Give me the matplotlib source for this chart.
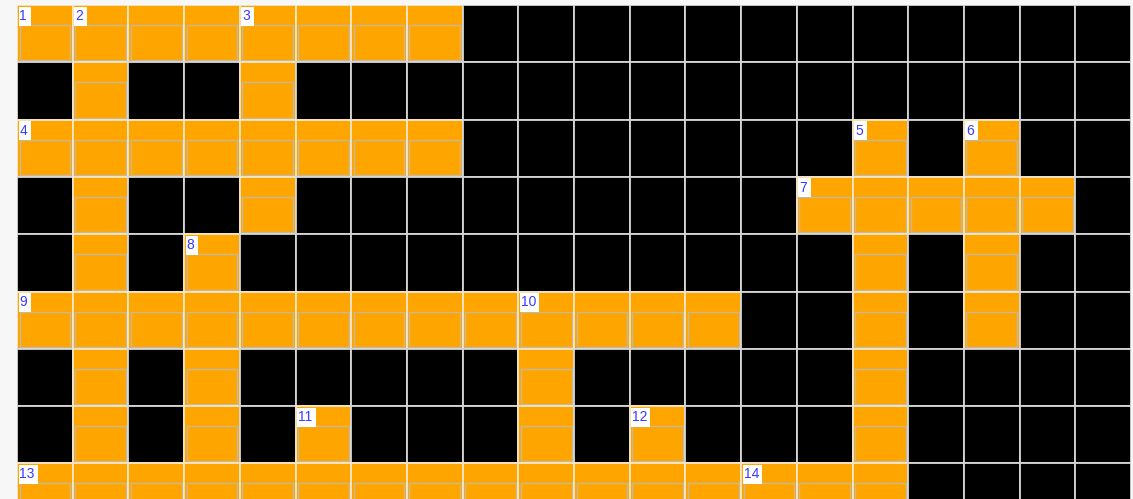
import matplotlib.pyplot as plt
from matplotlib.patches import Rectangle

# crossword layout: 'O' = open (orange) cell, '#' = blocked (black) cell
grid_rows = [
    "OOOOOOOO############",
    "#O##O###############",
    "OOOOOOOO#######O#O##",
    "#O##O#########OOOOO#",
    "#O#O###########O#O##",
    "OOOOOOOOOOOOO##O#O##",
    "#O#O#####O#####O####",
    "#O#O#O###O#O###O####",
    "OOOOOOOOOOOOOOOO####",
]
clue_rows = [0, 0, 0, 2, 2, 2, 3, 4, 5, 5, 7, 7, 8, 8]
clue_cols = [0, 1, 4, 0, 15, 17, 14, 3, 0, 9, 5, 11, 0, 13]
clue_nums = [1, 2, 3, 4, 5, 6, 7, 8, 9, 10, 11, 12, 13, 14]

W, H = 1133, 499
cell_w, cell_h = 55.7, 57.3   # pixel size of one cell
left_px, top_px = 17, 5
n_cols = len(grid_rows[0])

fig = plt.figure(figsize=(W / 100, H / 100), dpi=100)
fig.patch.set_facecolor("#f7f7f7")
ax = fig.add_axes([left_px / W, 0, n_cols * cell_w / W, (H - top_px) / H])
ax.set_xlim(0, n_cols)
ax.set_ylim((H - top_px) / cell_h, 0)
ax.axis("off")

px = 1 / cell_w
py = 1 / cell_h

for r, row in enumerate(grid_rows):
    for c, ch in enumerate(row):
        if ch == "O":
            ax.add_patch(Rectangle((c, r), 1, 1, facecolor="#ffa500",
                                   edgecolor="#f4e6c8", lw=1.3))
            # answer input box
            ax.add_patch(Rectangle((c + 2.5 * px, r + 20 * py), 1 - 5 * px, 1 - 22 * py,
                                   facecolor="none", edgecolor="#c8b89a", lw=1.0))
        else:
            ax.add_patch(Rectangle((c, r), 1, 1, facecolor="black",
                                   edgecolor="#d6d6d6", lw=1.3))

for r, c, n in zip(clue_rows, clue_cols, clue_nums):
    bw = 12.5 if n < 10 else 19
    ax.add_patch(Rectangle((c + 1.5 * px, r + 1.5 * py), bw * px, 19 * py,
                           facecolor="white", edgecolor="none"))
    ax.text(c + 2.5 * px, r + 11 * py, str(n), color="#3a3aff", fontsize=10,
            family="Liberation Sans", va="center", ha="left")

fig.savefig("out.png", dpi=100, facecolor=fig.get_facecolor())
